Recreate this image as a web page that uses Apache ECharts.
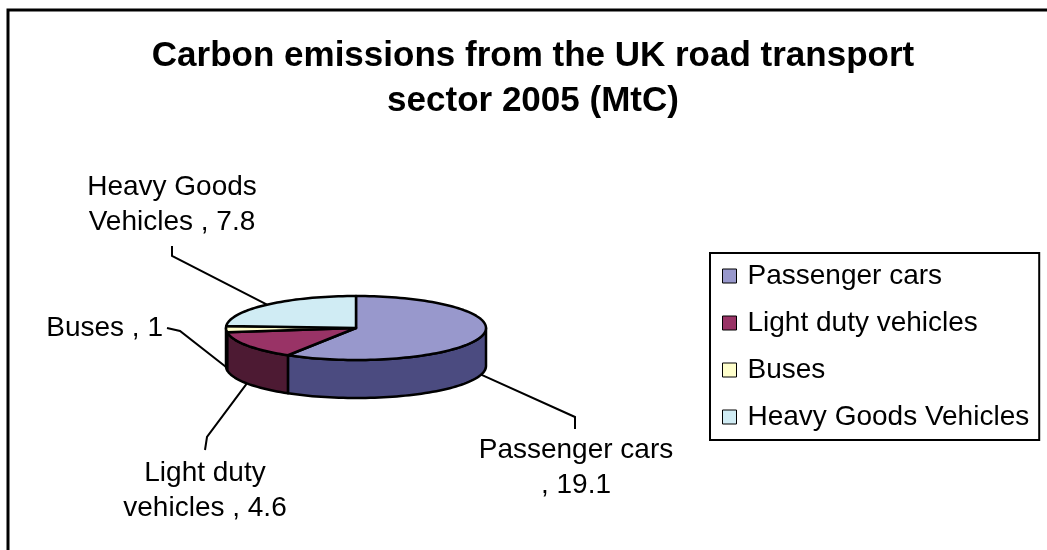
<!DOCTYPE html>
<html>
<head>
<meta charset="utf-8">
<script src="https://cdn.jsdelivr.net/npm/echarts@6/dist/echarts.min.js"></script>
<style>
  html, body { margin: 0; padding: 0; background: #fff; }
  #chart { width: 1047px; height: 550px; }
</style>
</head>
<body>
<div id="chart"></div>
<script>
const CATEGORIES = ['Passenger cars', 'Light duty vehicles', 'Buses', 'Heavy Goods Vehicles'];
const VALUES = [19.1, 4.6, 1, 7.8];
const LABEL_NAMES = ['Passenger cars\n', 'Light duty\nvehicles ', 'Buses ', 'Heavy Goods\nVehicles '];

const TOP_COLORS = ['#9898cc', '#993366', '#ffffcc', '#d0ecf4'];
const SIDE_COLORS = ['#4b4b80', '#4d1a33', '#808066', '#687a80'];
const FONT = '"Liberation Sans", Arial, sans-serif';

// flattened pie: centre, radii of the top ellipse, wall height
const PIE = { cx: 356, cy: 328, rx: 130, ry: 32, depth: 38 };

// where each data label sits, and the bend of its leader line
const LABEL_LAYOUT = [
  { x: 576, y: 468, align: 'center', elbow: [575, 417], end: [575, 429] },
  { x: 205, y: 491, align: 'center', elbow: [207, 437], end: [205, 450] },
  { x: 163, y: 328, align: 'right', elbow: [180, 331], end: [167, 328] },
  { x: 172, y: 205, align: 'center', elbow: [172, 256], end: [172, 246] },
];

const TOTAL = VALUES.reduce((s, v) => s + v, 0);
const START = [];
let acc = 0;
VALUES.forEach(v => { START.push(acc / TOTAL * 2 * Math.PI); acc += v; });

// angle measured clockwise from 12 o'clock
function pt(theta, dy) {
  return [PIE.cx + PIE.rx * Math.sin(theta), PIE.cy - PIE.ry * Math.cos(theta) + (dy || 0)];
}
function arc(a, b, dy) {
  const n = Math.max(2, Math.ceil((b - a) / (Math.PI / 90)));
  const out = [];
  for (let k = 0; k <= n; k++) out.push(pt(a + (b - a) * k / n, dy));
  return out;
}

function renderItem(params, api) {
  const i = params.dataIndex;
  const v = api.value(0);
  const a = START[i];
  const b = a + v / TOTAL * 2 * Math.PI;
  const children = [];

  // front wall, only the part facing the viewer
  const sa = Math.max(a, Math.PI / 2);
  const sb = Math.min(b, 1.5 * Math.PI);
  if (sb > sa) {
    const top = arc(sa, sb, 0);
    const bottom = arc(sa, sb, PIE.depth).reverse();
    children.push({
      type: 'polygon', z2: 1,
      shape: { points: top.concat(bottom) },
      style: { fill: SIDE_COLORS[i], stroke: '#000', lineWidth: 2.5, lineJoin: 'round' },
    });
  }

  // top face
  children.push({
    type: 'polygon', z2: 10,
    shape: { points: [[PIE.cx, PIE.cy]].concat(arc(a, b, 0)) },
    style: { fill: TOP_COLORS[i], stroke: '#000', lineWidth: 2.5, lineJoin: 'round' },
  });

  // leader line + label
  const m = (a + b) / 2;
  const front = m > Math.PI / 2 && m < 1.5 * Math.PI;
  const anchor = pt(m, front ? PIE.depth : 0);
  const L = LABEL_LAYOUT[i];
  children.push({
    type: 'polyline', z2: 0,
    shape: { points: [anchor, L.elbow, L.end] },
    style: { stroke: '#000', lineWidth: 2, fill: null },
  });
  children.push({
    type: 'text', z2: 20, x: L.x, y: L.y,
    style: {
      text: LABEL_NAMES[i] + ', ' + v,
      fill: '#000', font: '28px ' + FONT, lineHeight: 35,
      align: L.align, verticalAlign: 'middle',
    },
  });
  return { type: 'group', children };
}

const chart = echarts.init(document.getElementById('chart'));
chart.setOption({
  animation: false,
  color: TOP_COLORS,
  title: {
    text: 'Carbon emissions from the UK road transport\nsector 2005 (MtC)',
    left: 533, top: 34, padding: 0, textAlign: 'center',
    textStyle: { fontFamily: FONT, fontSize: 35, fontWeight: 'bold', color: '#000', lineHeight: 45 },
  },
  legend: {
    data: CATEGORIES,
    orient: 'vertical',
    left: 710, top: 253,
    padding: [9, 10, 9, 12],
    itemWidth: 14, itemHeight: 14, itemGap: 19,
    icon: 'rect',
    borderColor: '#000', borderWidth: 2,
    itemStyle: { borderColor: '#000', borderWidth: 1 },
    textStyle: { fontFamily: FONT, fontSize: 28, color: '#000', lineHeight: 28, padding: [0, 0, 0, 6] },
    selectedMode: false,
  },
  graphic: [{
    type: 'rect', z: -1,
    shape: { x: 8, y: 10, width: 1200, height: 700 },
    style: { fill: null, stroke: '#000', lineWidth: 3 },
  }],
  series: [
    {
      type: 'custom',
      coordinateSystem: 'none',
      renderItem,
      data: VALUES.map(v => [v]),
      silent: true,
    },
    {
      // invisible pie that only feeds the legend
      type: 'pie',
      radius: [0, 0],
      center: [PIE.cx, PIE.cy],
      silent: true,
      label: { show: false },
      labelLine: { show: false },
      data: CATEGORIES.map((n, i) => ({ name: n, value: VALUES[i] })),
    },
  ],
});
</script>
</body>
</html>
